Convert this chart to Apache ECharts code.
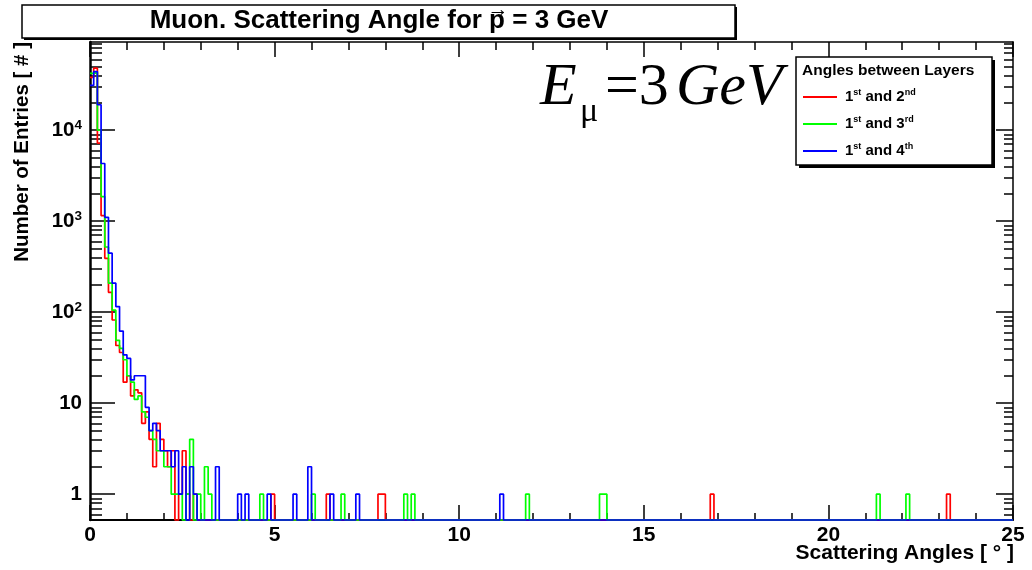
<!DOCTYPE html>
<html><head><meta charset="utf-8">
<script src="https://cdn.jsdelivr.net/npm/echarts@6/dist/echarts.min.js"></script>
<style>html,body{margin:0;padding:0;background:#fff}#c{width:1032px;height:570px}</style>
</head><body><div id="c"></div>
<script>
// ---------------- data ----------------
const binWidth = 0.1;          // degrees per bin
const nBins = 250;             // 0 .. 25 degrees
const seriesNames = ['1st and 2nd', '1st and 3rd', '1st and 4th'];
const seriesColors = ['#ff0000', '#00ff00', '#0000ff'];
// counts of the first bins (from 0 deg, one value per bin)
const redHead   = [38000, 48000, 7200, 1150, 390, 165, 82, 43, 36, 17, 20, 12, 14, 13, 6, 8, 4, 2, 6, 4, 3, 2, 3, 0, 1, 3, 1, 0, 1];
const greenHead = [42000, 43000, 10000, 1860, 520, 208, 105, 49, 40, 30, 20, 17, 11, 12, 8, 7, 5, 4, 3, 3, 2, 2, 1, 1, 1, 0, 1, 4, 0, 1, 0, 2, 1];
const blueHead  = [31000, 44000, 19000, 4300, 1100, 445, 208, 115, 62, 34, 31, 18, 20, 20, 20, 9, 5, 6, 5, 3, 3, 3, 2, 3, 1, 2, 0, 2, 1, 0, 0, 0, 0, 0, 2];
// isolated entries further out: [bin low edge (deg), count]
const redSpikes   = [[4.9, 1], [6.4, 1], [7.8, 1], [7.9, 1], [16.8, 1], [23.2, 1]];
const greenSpikes = [[4.6, 1], [6.0, 1], [6.8, 1], [8.5, 1], [8.7, 1], [11.8, 1], [13.8, 1], [13.9, 1], [21.3, 1], [22.1, 1]];
const blueSpikes  = [[4.0, 1], [4.2, 1], [4.8, 1], [5.5, 1], [5.9, 2], [6.5, 1], [7.2, 1], [11.1, 1]];
const yLabelValues = [1, 10, 100, 1000, 10000];
const yMinorValues = [0.6, 0.7, 0.8, 0.9, 2, 3, 4, 5, 6, 7, 8, 9, 20, 30, 40, 50, 60, 70, 80, 90,
  200, 300, 400, 500, 600, 700, 800, 900, 2000, 3000, 4000, 5000, 6000, 7000, 8000, 9000,
  20000, 30000, 40000, 50000, 60000, 70000, 80000, 90000];
const X_MIN = 0, X_MAX = 25, Y_MIN = 0.52, Y_MAX = 93000;

// ---------------- build ----------------
function buildCounts(head, spikes) {
  const c = new Array(nBins).fill(0);
  head.forEach((v, i) => { c[i] = v; });
  spikes.forEach(([x, v]) => { c[Math.round(x / binWidth)] = v; });
  return c;
}
function toStepData(counts) {
  // empty bins sit on the floor of the log axis, like the original histogram
  const d = counts.map((v, i) => [+(i * binWidth).toFixed(3), v > 0 ? v : Y_MIN]);
  const last = counts[counts.length - 1];
  d.push([X_MAX, last > 0 ? last : Y_MIN]);
  return d;
}
const allCounts = [buildCounts(redHead, redSpikes), buildCounts(greenHead, greenSpikes), buildCounts(blueHead, blueSpikes)];

const F = '"Liberation Sans", Arial, Helvetica, sans-serif';
const legendLabels = {
  '1st and 2nd': '1{s|st} and 2{s|nd}',
  '1st and 3rd': '1{s|st} and 3{s|rd}',
  '1st and 4th': '1{s|st} and 4{s|th}'
};

// title layout (measure text to put the vector arrow over "p")
const TITLE_FONT = 'bold 26px ' + F;
const titlePre = 'Muon. Scattering Angle for ', titleP = 'p', titlePost = ' = 3 GeV';
const mctx = document.createElement('canvas').getContext('2d');
mctx.font = TITLE_FONT;
const wPre = mctx.measureText(titlePre).width, wP = mctx.measureText(titleP).width;
const wAll = mctx.measureText(titlePre + titleP + titlePost).width;
const titleCx = 379, titleLeft = titleCx - wAll / 2;
const arrowX = titleLeft + wPre + wP / 2;

const black = '#000';
const chart = echarts.init(document.getElementById('c'), null, {renderer: 'canvas'});
const hiddenLine = {show: false};
const option = {
  animation: false,
  backgroundColor: '#fff',
  color: seriesColors,
  grid: [
    {left: 90, right: 19, top: 42, bottom: 50, outerBoundsMode: 'none', containLabel: false},
    {left: 90, right: 19, top: 42, bottom: 50, outerBoundsMode: 'none', containLabel: false}
  ],
  xAxis: [
    {gridIndex: 0, type: 'value', position: 'bottom', min: X_MIN, max: X_MAX, interval: 5,
     axisLine: {show: true, onZero: false, lineStyle: {color: black, width: 2}},
     axisTick: {show: true, inside: true, length: 15, lineStyle: {color: black, width: 1.5}},
     minorTick: {show: true, splitNumber: 5, length: 7, lineStyle: {color: black, width: 1.5}},
     splitLine: {show: false}, minorSplitLine: {show: false},
     axisLabel: {color: black, fontFamily: F, fontWeight: 'bold', fontSize: 21, margin: 5}
    },
    {gridIndex: 0, type: 'value', position: 'top', min: X_MIN, max: X_MAX, interval: 5,
     axisLine: {show: true, onZero: false, lineStyle: {color: black, width: 1.5}},
     axisTick: {show: true, inside: true, length: 15, lineStyle: {color: black, width: 1.5}},
     minorTick: {show: true, splitNumber: 5, length: 8, lineStyle: {color: black, width: 1.5}},
     splitLine: {show: false}, axisLabel: {show: false}
    },
    {gridIndex: 1, type: 'value', position: 'bottom', min: X_MIN, max: X_MAX,
     axisLine: hiddenLine, axisTick: {show: false}, splitLine: {show: false}, axisLabel: {show: false}}
  ],
  yAxis: [
    {gridIndex: 0, type: 'log', logBase: 10, position: 'left', min: Y_MIN, max: Y_MAX,
     axisLine: {show: true, onZero: false, lineStyle: {color: black, width: 2.5}},
     axisTick: {show: true, inside: true, length: 25, customValues: yLabelValues, lineStyle: {color: black, width: 1.5}},
     splitLine: {show: false},
     axisLabel: {customValues: yLabelValues, color: black, fontFamily: F, fontWeight: 'bold', fontSize: 20.5, lineHeight: 22, margin: 8,
       formatter: v => {
         const e = Math.round(Math.log10(v));
         if (e === 0) return '1';
         if (e === 1) return '10';
         return '10{s|' + e + '}';
       },
       rich: {s: {color: black, fontFamily: F, fontWeight: 'bold', fontSize: 13.5, lineHeight: 13, padding: [0, 0, 9, 0]}}
     }
    },
    {gridIndex: 0, type: 'log', logBase: 10, position: 'right', min: Y_MIN, max: Y_MAX,
     axisLine: {show: true, onZero: false, lineStyle: {color: black, width: 1.5}},
     axisTick: {show: true, inside: true, length: 17, customValues: yLabelValues, lineStyle: {color: black, width: 1.5}},
     splitLine: {show: false}, axisLabel: {show: false}
    },
    {gridIndex: 1, type: 'log', logBase: 10, position: 'left', min: Y_MIN, max: Y_MAX,
     axisLine: hiddenLine,
     axisTick: {show: true, inside: true, length: 12, customValues: yMinorValues, lineStyle: {color: black, width: 1.5}},
     splitLine: {show: false}, axisLabel: {show: false}
    },
    {gridIndex: 1, type: 'log', logBase: 10, position: 'right', min: Y_MIN, max: Y_MAX,
     axisLine: hiddenLine,
     axisTick: {show: true, inside: true, length: 9, customValues: yMinorValues, lineStyle: {color: black, width: 1.5}},
     splitLine: {show: false}, axisLabel: {show: false}
    }
  ],
  legend: {
    orient: 'vertical', left: 803, top: 88, padding: 0,
    itemGap: 9, itemWidth: 34, itemHeight: 2, icon: 'rect',
    selectedMode: false,
    data: seriesNames,
    formatter: name => legendLabels[name],
    textStyle: {color: black, fontFamily: F, fontWeight: 'bold', fontSize: 15, lineHeight: 18, padding: [0, 0, 0, 3],
      rich: {s: {color: black, fontFamily: F, fontWeight: 'bold', fontSize: 9, lineHeight: 10, padding: [0, 0, 8, 0]}}}
  },
  series: allCounts.map((counts, k) => ({
    name: seriesNames[k], type: 'line', xAxisIndex: 0, yAxisIndex: 0,
    step: 'end', showSymbol: false, symbol: 'none', clip: false,
    color: seriesColors[k],
    lineStyle: {color: seriesColors[k], width: 1.7},
    data: toStepData(counts), z: 2 + k
  })),
  graphic: [
    // title box
    {type: 'rect', z: 20, shape: {x: 24, y: 7, width: 713, height: 33}, style: {fill: black}},
    {type: 'rect', z: 21, shape: {x: 22, y: 5, width: 713, height: 33}, style: {fill: '#fff', stroke: black, lineWidth: 1.5}},
    {type: 'text', z: 22, x: titleLeft, y: 21, style: {text: titlePre + titleP + titlePost, font: TITLE_FONT, fill: black, textAlign: 'left', verticalAlign: 'middle'}},
    {type: 'text', z: 22, x: arrowX + 1, y: 10, style: {text: '\u2192', font: 'bold 21px ' + F, fill: black, textAlign: 'center', verticalAlign: 'middle'}},
    // legend box
    {type: 'rect', z: 3, shape: {x: 799, y: 60, width: 196, height: 108}, style: {fill: black}},
    {type: 'rect', z: 3, shape: {x: 796, y: 57, width: 196, height: 108}, style: {fill: '#fff', stroke: black, lineWidth: 1.5}},
    {type: 'text', z: 6, x: 802, y: 71, style: {text: 'Angles between Layers', font: 'bold 15.5px ' + F, fill: black, textAlign: 'left', verticalAlign: 'middle'}},
    // axis titles
    {type: 'text', z: 6, x: 22, y: 42, rotation: Math.PI / 2, style: {text: 'Number of Entries [ # ]', font: 'bold 20.5px ' + F, fill: black, textAlign: 'right', verticalAlign: 'middle'}},
    {type: 'text', z: 6, x: 1014, y: 553, style: {text: 'Scattering Angles [ \u00b0 ]', font: 'bold 21px ' + F, fill: black, textAlign: 'right', verticalAlign: 'middle'}},
    // E_mu = 3 GeV annotation
    {type: 'text', z: 6, x: 540, y: 88, style: {text: 'E', font: 'italic 60px "Liberation Serif", "DejaVu Serif", serif', fill: black, textAlign: 'left', verticalAlign: 'middle'}},
    {type: 'text', z: 6, x: 580, y: 112, style: {text: '\u03bc', font: '34px "Liberation Serif", "DejaVu Serif", serif', fill: black, textAlign: 'left', verticalAlign: 'middle'}},
    {type: 'text', z: 6, x: 605, y: 88, style: {text: '=3', font: '60px "Liberation Serif", "DejaVu Serif", serif', fill: black, textAlign: 'left', verticalAlign: 'middle'}},
    {type: 'text', z: 6, x: 676, y: 88, style: {text: 'GeV', font: 'italic 60px "Liberation Serif", "DejaVu Serif", serif', fill: black, textAlign: 'left', verticalAlign: 'middle'}}
  ]
};
chart.setOption(option);
</script></body></html>
